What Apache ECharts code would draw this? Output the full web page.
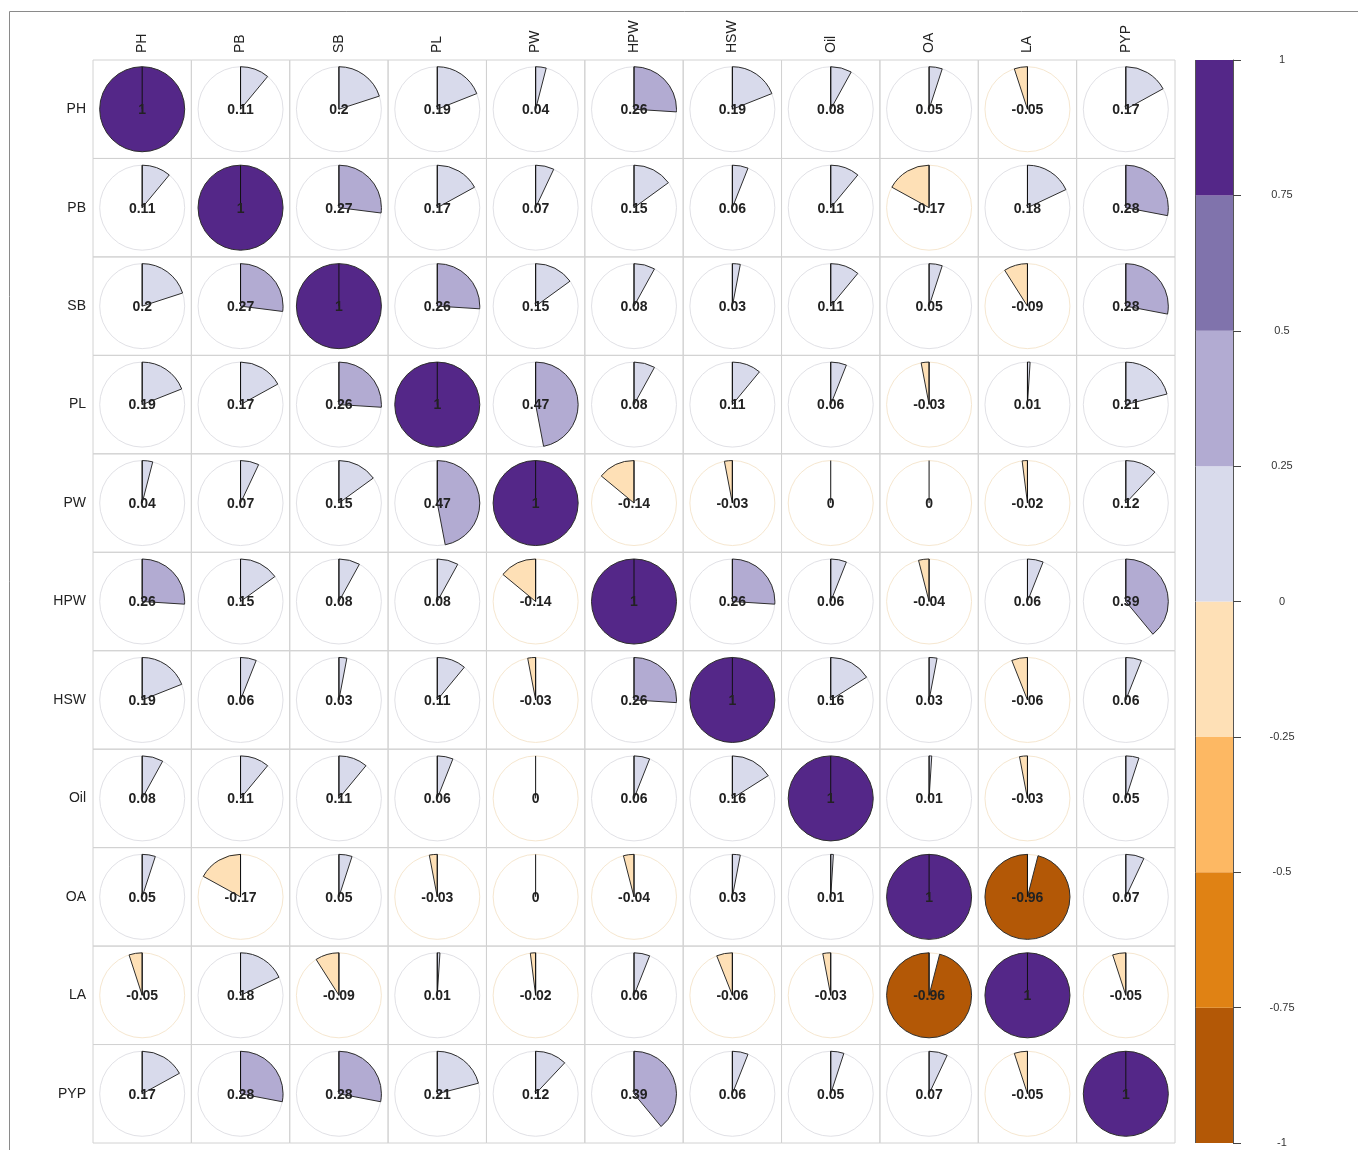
<!DOCTYPE html>
<html>
<head>
<meta charset="utf-8">
<title>Correlation pie matrix</title>
<script src="https://cdn.jsdelivr.net/npm/echarts@6/dist/echarts.min.js"></script>
<style>
  html, body { margin: 0; padding: 0; background: #ffffff; }
  #chart { width: 1358px; height: 1150px; }
</style>
</head>
<body>
<div id="chart"></div>
<script>
// Trait names (rows and columns share the same order)
const traits = ['PH', 'PB', 'SB', 'PL', 'PW', 'HPW', 'HSW', 'Oil', 'OA', 'LA', 'PYP'];

// Pearson correlations, one row per trait
const corrPH  = [1, 0.11, 0.2, 0.19, 0.04, 0.26, 0.19, 0.08, 0.05, -0.05, 0.17];
const corrPB  = [0.11, 1, 0.27, 0.17, 0.07, 0.15, 0.06, 0.11, -0.17, 0.18, 0.28];
const corrSB  = [0.2, 0.27, 1, 0.26, 0.15, 0.08, 0.03, 0.11, 0.05, -0.09, 0.28];
const corrPL  = [0.19, 0.17, 0.26, 1, 0.47, 0.08, 0.11, 0.06, -0.03, 0.01, 0.21];
const corrPW  = [0.04, 0.07, 0.15, 0.47, 1, -0.14, -0.03, 0, 0, -0.02, 0.12];
const corrHPW = [0.26, 0.15, 0.08, 0.08, -0.14, 1, 0.26, 0.06, -0.04, 0.06, 0.39];
const corrHSW = [0.19, 0.06, 0.03, 0.11, -0.03, 0.26, 1, 0.16, 0.03, -0.06, 0.06];
const corrOil = [0.08, 0.11, 0.11, 0.06, 0, 0.06, 0.16, 1, 0.01, -0.03, 0.05];
const corrOA  = [0.05, -0.17, 0.05, -0.03, 0, -0.04, 0.03, 0.01, 1, -0.96, 0.07];
const corrLA  = [-0.05, 0.18, -0.09, 0.01, -0.02, 0.06, -0.06, -0.03, -0.96, 1, -0.05];
const corrPYP = [0.17, 0.28, 0.28, 0.21, 0.12, 0.39, 0.06, 0.05, 0.07, -0.05, 1];

// Colour classes (PuOr, 8 steps) and their breaks
const binBreaks = [-1, -0.75, -0.5, -0.25, 0, 0.25, 0.5, 0.75, 1];
const binColors = ['#b35806', '#e08214', '#fdb863', '#fee0b6', '#d8daeb', '#b2abd2', '#8073ac', '#542788'];

const corrRows = [corrPH, corrPB, corrSB, corrPL, corrPW, corrHPW, corrHSW, corrOil, corrOA, corrLA, corrPYP];

function binIndex(v) {
  for (let i = 0; i < binColors.length; i++) {
    if (v <= binBreaks[i + 1]) return i;
  }
  return binColors.length - 1;
}

const cells = [];
corrRows.forEach((row, r) => {
  row.forEach((v, c) => cells.push([c, r, v]));
});

const colorbarData = binColors.map((col, i) => [binBreaks[i], binBreaks[i + 1], i]);

const FONT = '"Liberation Sans", Arial, Helvetica, sans-serif';

function renderCell(params, api) {
  const v = api.value(2);
  const p = api.coord([api.value(0), api.value(1)]);
  const s = api.size([1, 1]);
  const w = s[0], h = s[1];
  const cx = p[0], cy = p[1];
  const r = Math.min(w, h) * 0.432;
  const children = [
    {
      type: 'rect',
      shape: { x: cx - w / 2, y: cy - h / 2, width: w, height: h },
      style: { fill: 'none', stroke: '#d2d2d2', lineWidth: 1 }
    },
    {
      type: 'circle',
      shape: { cx: cx, cy: cy, r: r },
      style: { fill: '#ffffff', stroke: v > 0 ? '#e1e1e6' : '#f6e7d0', lineWidth: 1 }
    }
  ];
  if (v !== 0) {
    children.push({
      type: 'sector',
      shape: {
        cx: cx, cy: cy, r0: 0, r: r,
        startAngle: -Math.PI / 2,
        endAngle: -Math.PI / 2 + 2 * Math.PI * v,
        clockwise: v > 0
      },
      style: { fill: binColors[binIndex(v)], stroke: '#2e2e2e', lineWidth: 1 }
    });
  }
  children.push({
    type: 'line',
    shape: { x1: cx, y1: cy, x2: cx, y2: cy - r },
    style: { stroke: '#111111', lineWidth: 1 }
  });
  children.push({
    type: 'text',
    style: {
      text: String(v),
      x: cx, y: cy + 1,
      align: 'center', verticalAlign: 'middle',
      font: 'bold 14px ' + FONT,
      fill: '#222222'
    }
  });
  return { type: 'group', children: children };
}

function renderColorbar(params, api) {
  const lo = api.value(0), hi = api.value(1);
  const tl = api.coord([0, hi]);
  const br = api.coord([1, lo]);
  return {
    type: 'group',
    children: [
      {
        type: 'rect',
        shape: { x: tl[0], y: tl[1], width: br[0] - tl[0], height: br[1] - tl[1] },
        style: { fill: binColors[api.value(2)] }
      },
      {
        type: 'line',
        shape: { x1: tl[0] + 0.5, y1: tl[1], x2: tl[0] + 0.5, y2: br[1] },
        style: { stroke: '#555555', lineWidth: 1 }
      }
    ]
  };
}

const chart = echarts.init(document.getElementById('chart'), null, { renderer: 'canvas' });

chart.setOption({
  animation: false,
  backgroundColor: '#ffffff',
  graphic: [
    {
      type: 'rect',
      shape: { x: 9.5, y: 11.5, width: 1400, height: 1200 },
      style: { fill: 'none', stroke: '#8a8a8a', lineWidth: 1 },
      silent: true
    }
  ],
  grid: [
    { left: 93, top: 60, width: 1082, height: 1083 },
    { left: 1195, top: 60, width: 38, height: 1083 }
  ],
  xAxis: [
    {
      gridIndex: 0,
      type: 'category',
      data: traits,
      position: 'top',
      axisLine: { show: false },
      axisTick: { show: false },
      splitLine: { show: false },
      axisLabel: { rotate: -90, margin: 7, fontSize: 14, color: '#222222', fontFamily: FONT }
    },
    { gridIndex: 1, type: 'value', min: 0, max: 1, show: false }
  ],
  yAxis: [
    {
      gridIndex: 0,
      type: 'category',
      data: traits,
      inverse: true,
      axisLine: { show: false },
      axisTick: { show: false },
      splitLine: { show: false },
      axisLabel: { margin: 7, fontSize: 14, color: '#222222', fontFamily: FONT }
    },
    {
      gridIndex: 1,
      type: 'value',
      min: -1,
      max: 1,
      interval: 0.25,
      position: 'right',
      axisLine: { show: true, onZero: false, lineStyle: { color: '#555555', width: 1 } },
      axisTick: { show: true, length: 8, lineStyle: { color: '#444444', width: 1 } },
      splitLine: { show: false },
      axisLabel: {
        margin: 49, align: 'center', fontSize: 11, color: '#333333', fontFamily: FONT,
        formatter: (v) => String(v)
      }
    }
  ],
  series: [
    {
      type: 'custom',
      xAxisIndex: 0,
      yAxisIndex: 0,
      renderItem: renderCell,
      data: cells,
      silent: true
    },
    {
      type: 'custom',
      xAxisIndex: 1,
      yAxisIndex: 1,
      renderItem: renderColorbar,
      data: colorbarData,
      silent: true
    }
  ]
});
</script>
</body>
</html>
